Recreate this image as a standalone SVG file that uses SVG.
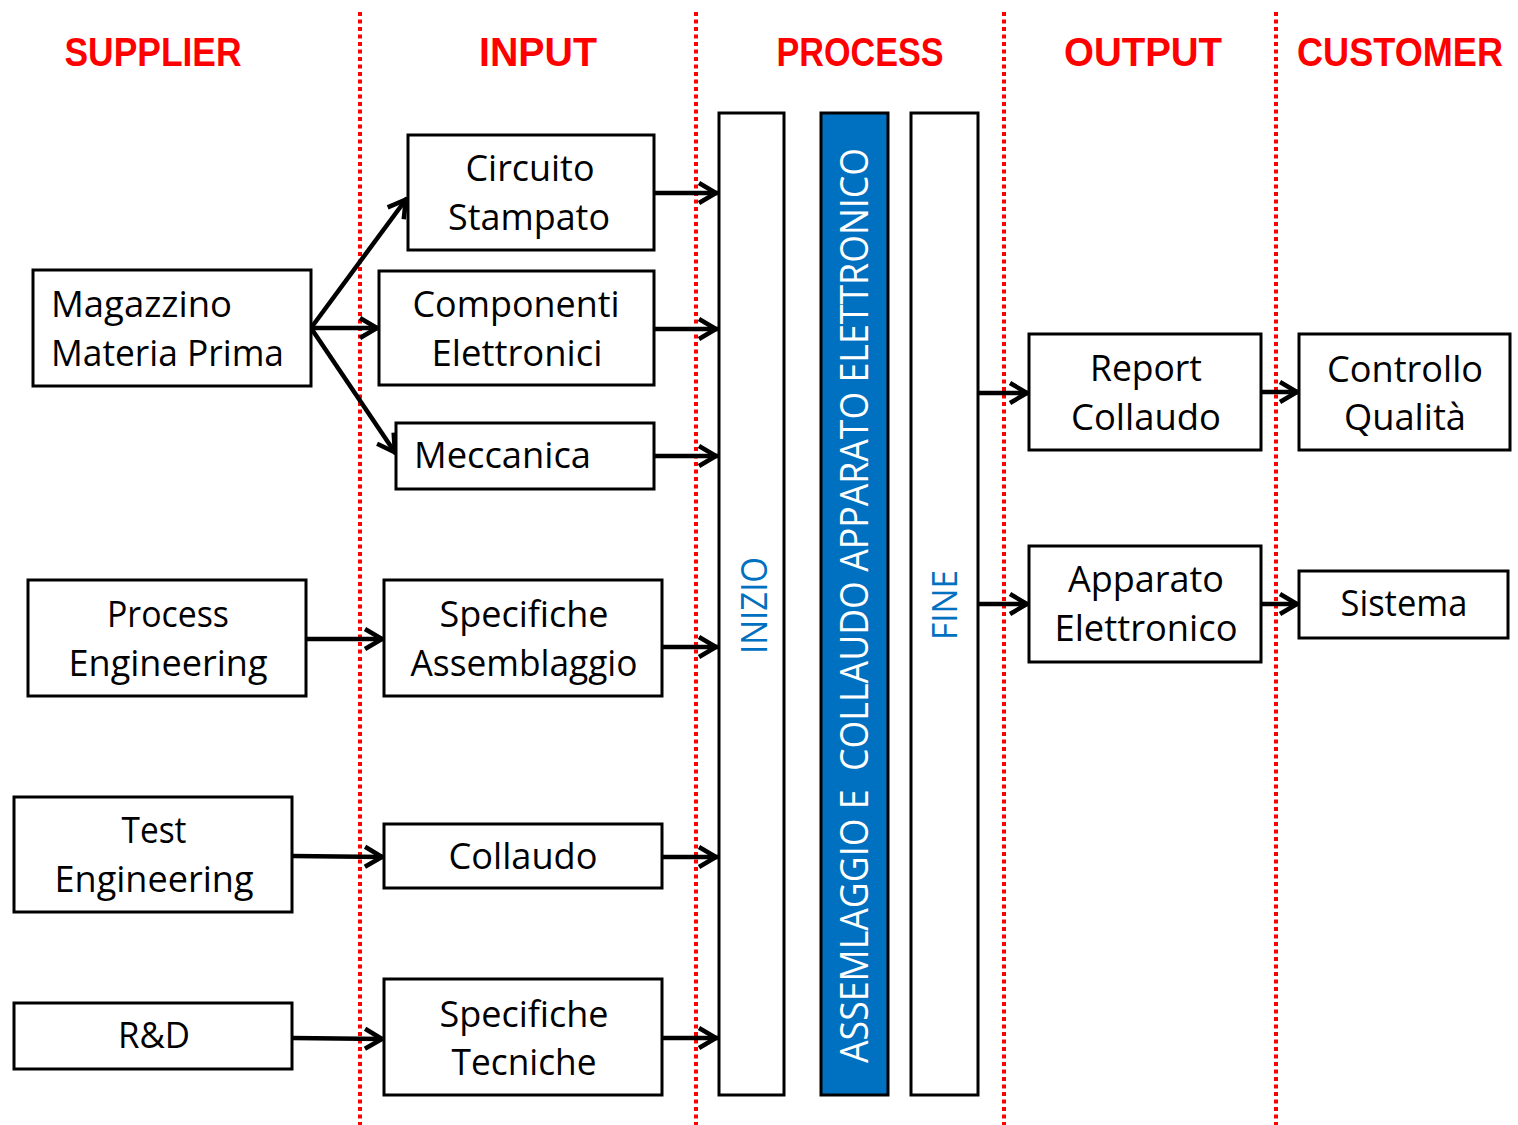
<svg xmlns="http://www.w3.org/2000/svg" width="1518" height="1125" viewBox="0 0 1518 1125">
  <style>
    .bg { fill: #ffffff; }
    .box { fill: #ffffff; stroke: #000000; stroke-width: 3; }
    .bar { fill: #ffffff; stroke: #000000; stroke-width: 3; }
    .bar-blue { fill: #0070C0; stroke: #000000; stroke-width: 3; }
    .lbl { font-family: "Open Sans", "Liberation Sans", sans-serif; font-size: 36px; fill: #000000; text-anchor: middle; }
    .lbl-left { text-anchor: start; }
    .hdr { font-family: "Liberation Sans", Arial, sans-serif; font-weight: bold; font-size: 40px; fill: #ff0000; text-anchor: middle; }
    .vtxt { font-family: "Open Sans", "Liberation Sans", sans-serif; fill: #0070C0; text-anchor: middle; }
    .vtxt-w { font-family: "Open Sans", "Liberation Sans", sans-serif; fill: #ffffff; text-anchor: middle; white-space: pre; }
    .lane { stroke: #ff0000; stroke-width: 4; stroke-dasharray: 4 3.5; fill: none; }
    .conn { stroke: #000000; stroke-width: 4.5; fill: none; marker-end: url(#arrow); }
  </style>
  <defs>
    <marker id="arrow" markerUnits="userSpaceOnUse" markerWidth="30" markerHeight="30" viewBox="-25 -15 30 30" refX="0" refY="0" orient="auto">
      <path d="M-19,-10 L-2,0 L-19,10" fill="none" stroke="#000000" stroke-width="4.5"/>
    </marker>
  </defs>

  <rect class="bg" x="0" y="0" width="1518" height="1125"/>

  <!-- swimlane separators -->
  <g id="lanes">
    <line class="lane" x1="360" y1="12" x2="360" y2="1125"/>
    <line class="lane" x1="696" y1="12" x2="696" y2="1125"/>
    <line class="lane" x1="1004" y1="12" x2="1004" y2="1125"/>
    <line class="lane" x1="1276" y1="12" x2="1276" y2="1125"/>
  </g>

  <!-- column headers -->
  <g id="headers">
    <text class="hdr" x="153" y="66" textLength="177" lengthAdjust="spacingAndGlyphs">SUPPLIER</text>
    <text class="hdr" x="538" y="66" textLength="118" lengthAdjust="spacingAndGlyphs">INPUT</text>
    <text class="hdr" x="860" y="66" textLength="167" lengthAdjust="spacingAndGlyphs">PROCESS</text>
    <text class="hdr" x="1143" y="66" textLength="158" lengthAdjust="spacingAndGlyphs">OUTPUT</text>
    <text class="hdr" x="1400" y="66" font-size="38" textLength="206" lengthAdjust="spacingAndGlyphs">CUSTOMER</text>
  </g>

  <!-- connectors -->
  <g id="connectors">
    <line class="conn" x1="311" y1="328" x2="407" y2="198"/>
    <line class="conn" x1="311" y1="328" x2="379" y2="328"/>
    <line class="conn" x1="311" y1="328" x2="396" y2="454"/>
    <line class="conn" x1="654" y1="193" x2="718" y2="193"/>
    <line class="conn" x1="654" y1="329" x2="718" y2="329"/>
    <line class="conn" x1="654" y1="456" x2="718" y2="456"/>
    <line class="conn" x1="306" y1="639" x2="384" y2="639"/>
    <line class="conn" x1="662" y1="647" x2="718" y2="647"/>
    <line class="conn" x1="292" y1="856" x2="384" y2="857"/>
    <line class="conn" x1="662" y1="857" x2="718" y2="857"/>
    <line class="conn" x1="292" y1="1038" x2="384" y2="1039"/>
    <line class="conn" x1="662" y1="1038" x2="718" y2="1038"/>
    <line class="conn" x1="978" y1="393" x2="1029" y2="393"/>
    <line class="conn" x1="978" y1="604" x2="1029" y2="604"/>
    <line class="conn" x1="1261" y1="392" x2="1299" y2="392"/>
    <line class="conn" x1="1261" y1="604" x2="1299" y2="604"/>
  </g>

  <!-- supplier column -->
  <g id="magazzino">
    <rect class="box" x="33" y="270" width="278" height="116"/>
    <text class="lbl lbl-left" x="51" y="317" textLength="181" lengthAdjust="spacingAndGlyphs">Magazzino</text>
    <text class="lbl lbl-left" x="51" y="366" textLength="233" lengthAdjust="spacingAndGlyphs">Materia Prima</text>
  </g>
  <g id="process-engineering">
    <rect class="box" x="28" y="580" width="278" height="116"/>
    <text class="lbl" x="168" y="627" textLength="122" lengthAdjust="spacingAndGlyphs">Process</text>
    <text class="lbl" x="168" y="676" textLength="199" lengthAdjust="spacingAndGlyphs">Engineering</text>
  </g>
  <g id="test-engineering">
    <rect class="box" x="14" y="797" width="278" height="115"/>
    <text class="lbl" x="154" y="843" textLength="65" lengthAdjust="spacingAndGlyphs">Test</text>
    <text class="lbl" x="154" y="892" textLength="199" lengthAdjust="spacingAndGlyphs">Engineering</text>
  </g>
  <g id="rnd">
    <rect class="box" x="14" y="1003" width="278" height="66"/>
    <text class="lbl" x="154" y="1048" textLength="72" lengthAdjust="spacingAndGlyphs">R&amp;D</text>
  </g>

  <!-- input column -->
  <g id="circuito-stampato">
    <rect class="box" x="408" y="135" width="246" height="115"/>
    <text class="lbl" x="530" y="181" textLength="129" lengthAdjust="spacingAndGlyphs">Circuito</text>
    <text class="lbl" x="529" y="230" textLength="162" lengthAdjust="spacingAndGlyphs">Stampato</text>
  </g>
  <g id="componenti-elettronici">
    <rect class="box" x="379" y="271" width="275" height="114"/>
    <text class="lbl" x="516" y="317" textLength="207" lengthAdjust="spacingAndGlyphs">Componenti</text>
    <text class="lbl" x="517" y="366" textLength="171" lengthAdjust="spacingAndGlyphs">Elettronici</text>
  </g>
  <g id="meccanica">
    <rect class="box" x="396" y="423" width="258" height="66"/>
    <text class="lbl lbl-left" x="414" y="468" textLength="177" lengthAdjust="spacingAndGlyphs">Meccanica</text>
  </g>
  <g id="specifiche-assemblaggio">
    <rect class="box" x="384" y="580" width="278" height="116"/>
    <text class="lbl" x="524" y="627" textLength="169" lengthAdjust="spacingAndGlyphs">Specifiche</text>
    <text class="lbl" x="524" y="676" textLength="227" lengthAdjust="spacingAndGlyphs">Assemblaggio</text>
  </g>
  <g id="collaudo">
    <rect class="box" x="384" y="824" width="278" height="64"/>
    <text class="lbl" x="523" y="869" textLength="149" lengthAdjust="spacingAndGlyphs">Collaudo</text>
  </g>
  <g id="specifiche-tecniche">
    <rect class="box" x="384" y="979" width="278" height="116"/>
    <text class="lbl" x="524" y="1027" textLength="169" lengthAdjust="spacingAndGlyphs">Specifiche</text>
    <text class="lbl" x="524" y="1075" textLength="145" lengthAdjust="spacingAndGlyphs">Tecniche</text>
  </g>

  <!-- process column -->
  <g id="inizio">
    <rect class="bar" x="719" y="113" width="65" height="982"/>
    <text class="vtxt" font-size="36" transform="translate(767,605.5) rotate(-90)" textLength="97" lengthAdjust="spacingAndGlyphs">INIZIO</text>
  </g>
  <g id="assemblaggio-collaudo">
    <rect class="bar-blue" x="821" y="113" width="67" height="982"/>
    <text class="vtxt-w" font-size="38" transform="translate(868,605.5) rotate(-90)" textLength="915" lengthAdjust="spacingAndGlyphs">ASSEMLAGGIO E  COLLAUDO APPARATO ELETTRONICO</text>
  </g>
  <g id="fine">
    <rect class="bar" x="911" y="113" width="67" height="982"/>
    <text class="vtxt" font-size="35" transform="translate(957,605) rotate(-90)" textLength="70" lengthAdjust="spacingAndGlyphs">FINE</text>
  </g>

  <!-- output column -->
  <g id="report-collaudo">
    <rect class="box" x="1029" y="334" width="232" height="116"/>
    <text class="lbl" x="1146" y="381" textLength="112" lengthAdjust="spacingAndGlyphs">Report</text>
    <text class="lbl" x="1146" y="430" textLength="150" lengthAdjust="spacingAndGlyphs">Collaudo</text>
  </g>
  <g id="apparato-elettronico">
    <rect class="box" x="1029" y="546" width="232" height="116"/>
    <text class="lbl" x="1146" y="592" textLength="156" lengthAdjust="spacingAndGlyphs">Apparato</text>
    <text class="lbl" x="1146" y="641" textLength="183" lengthAdjust="spacingAndGlyphs">Elettronico</text>
  </g>

  <!-- customer column -->
  <g id="controllo-qualita">
    <rect class="box" x="1299" y="334" width="211" height="116"/>
    <text class="lbl" x="1405" y="382" textLength="156" lengthAdjust="spacingAndGlyphs">Controllo</text>
    <text class="lbl" x="1405" y="430" textLength="122" lengthAdjust="spacingAndGlyphs">Qualità</text>
  </g>
  <g id="sistema">
    <rect class="box" x="1299" y="571" width="209" height="67"/>
    <text class="lbl" x="1404" y="616" textLength="127" lengthAdjust="spacingAndGlyphs">Sistema</text>
  </g>
</svg>
